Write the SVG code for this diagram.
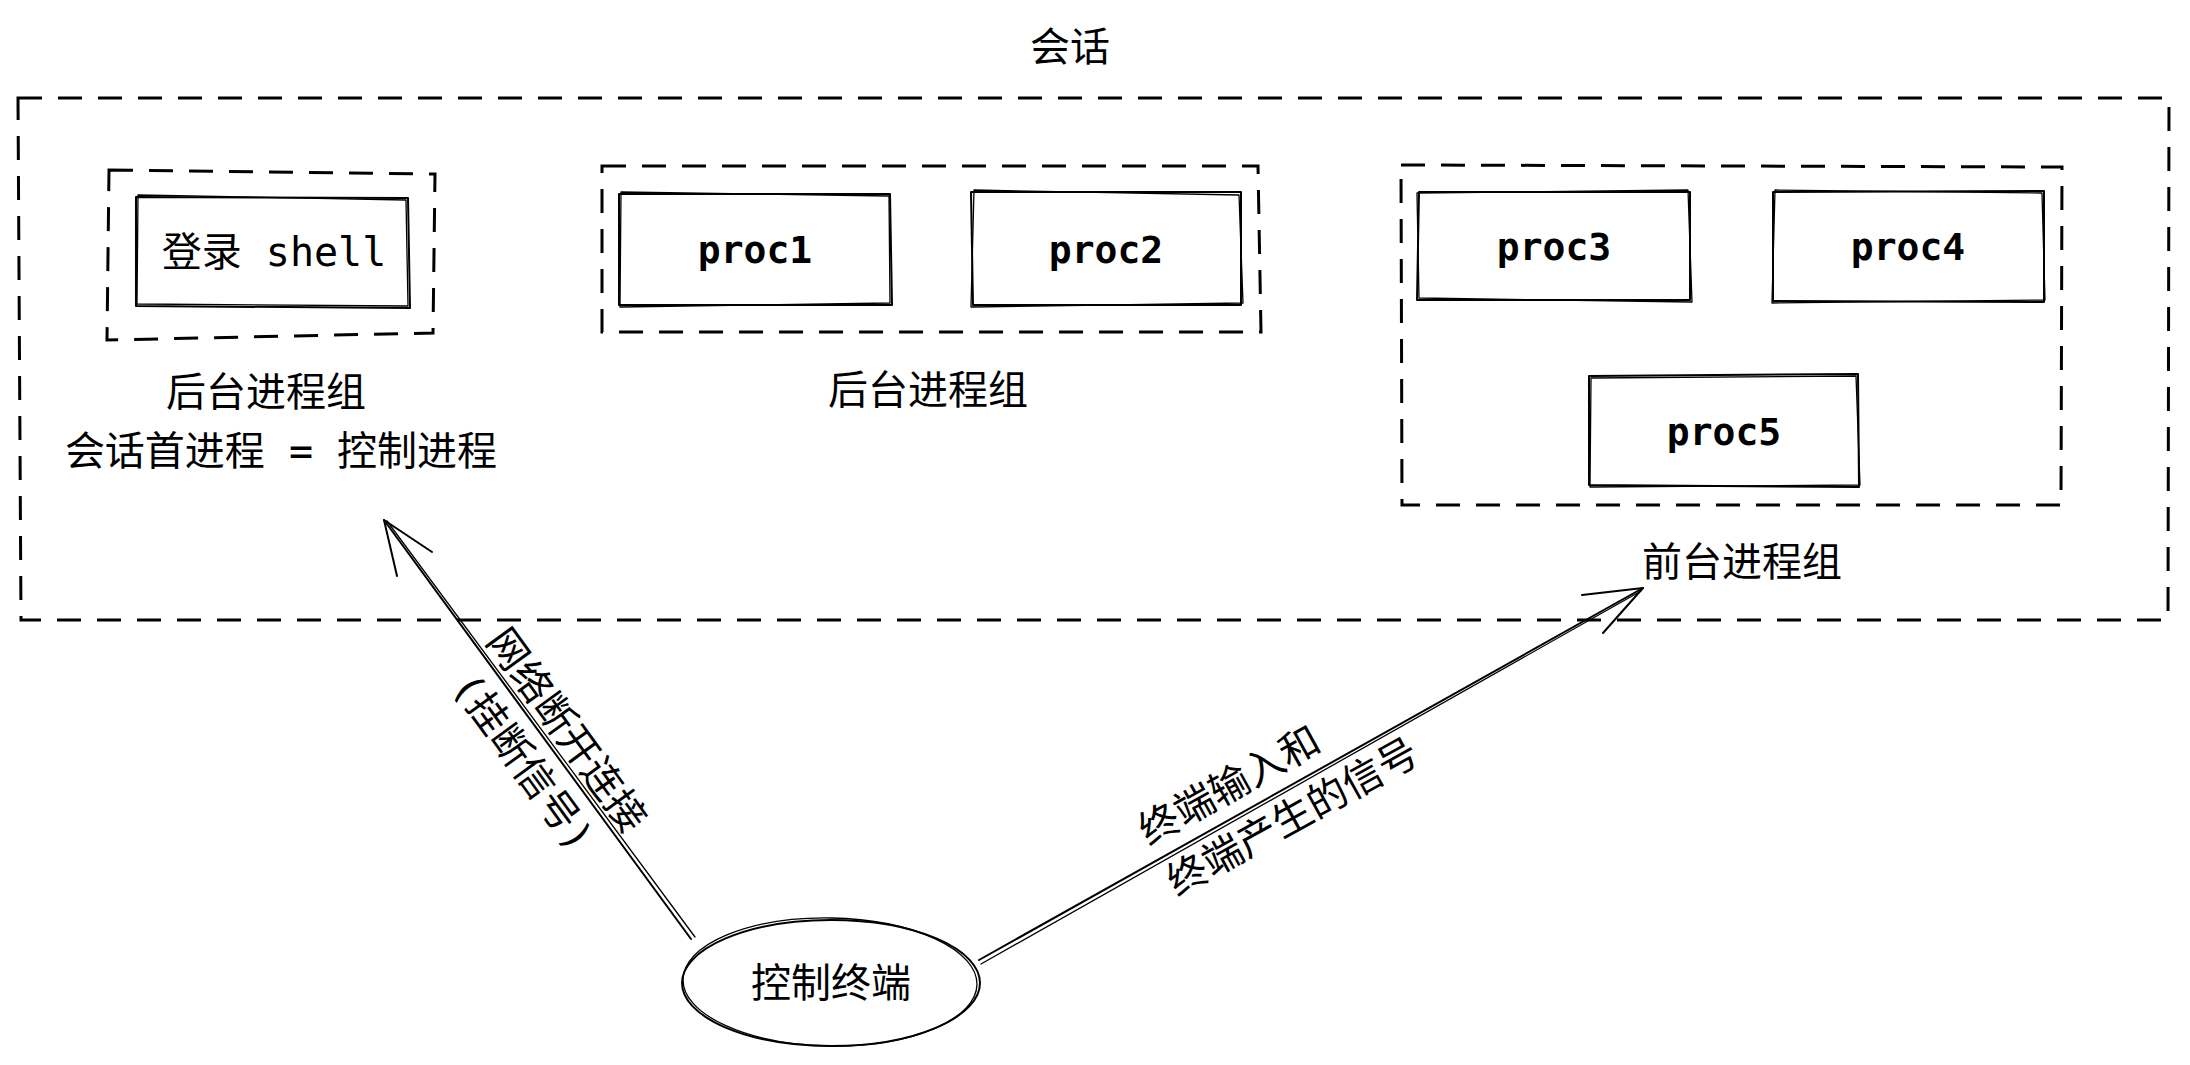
<svg xmlns="http://www.w3.org/2000/svg" width="2190" height="1065" viewBox="0 0 2190 1065">
<style>
  .t { font-family: "DejaVu Sans Mono", "Noto Sans CJK SC", monospace; font-size: 40px; fill: #000; text-anchor: middle; }
  .b { font-weight: bold; font-size: 38px; }
  .dash { fill: none; stroke: #000; stroke-width: 3; stroke-dasharray: 24 16; }
  .sk { fill: none; stroke: #000; stroke-width: 2; stroke-linejoin: round; stroke-linecap: round; }
  .sk2 { fill: none; stroke: #000; stroke-width: 1.3; stroke-linejoin: round; stroke-linecap: round; }
</style>
<rect x="0" y="0" width="2190" height="1065" fill="#fff"/>

<g id="session">
  <path class="dash" d="M18,98 L2169,98 L2168,620 L21,620 Z"/>
  <text class="t" x="1070" y="61">会话</text>
</g>

<g id="group-login">
  <path class="dash" d="M109,170 L435,174 L433,333 L107,340 Z"/>
  <text class="t" x="266" y="406">后台进程组</text>
  <text class="t" x="281" y="465">会话首进程 = 控制进程</text>
</g>

<g id="login-shell">
  <path class="sk" d="M136,197 L408,198 L410,308 L136,306 Z"/>
  <path class="sk2" d="M138,195 L406,200 L408,306 L137,304 Z"/>
  <text class="t" x="274" y="266">登录 shell</text>
</g>

<g id="group-bg">
  <path class="dash" d="M602,166 L1258,166 L1261,332 L602,332 Z"/>
  <text class="t" x="928" y="404">后台进程组</text>
</g>

<g id="proc1">
  <path class="sk" d="M619,194 L890,194 L892,305 L619,305 Z"/>
  <path class="sk2" d="M621,192 L889,196 L890,303 L620,307 Z"/>
  <text class="t b" x="755" y="263">proc1</text>
</g>

<g id="proc2">
  <path class="sk" d="M971,192 L1241,192 L1241,305 L973,305 Z"/>
  <path class="sk2" d="M974,190 L1239,195 L1243,303 L971,307 Z"/>
  <text class="t b" x="1106" y="263">proc2</text>
</g>

<g id="group-fg">
  <path class="dash" d="M1401,165 L2062,167 L2061,505 L1402,505 Z"/>
  <text class="t" x="1742" y="576">前台进程组</text>
</g>

<g id="proc3">
  <path class="sk" d="M1419,192 L1690,192 L1690,300 L1417,300 Z"/>
  <path class="sk2" d="M1417,193 L1688,190 L1692,302 L1419,298 Z"/>
  <text class="t b" x="1554" y="260">proc3</text>
</g>

<g id="proc4">
  <path class="sk" d="M1773,192 L2044,191 L2044,302 L1773,301 Z"/>
  <path class="sk2" d="M1775,190 L2042,193 L2045,300 L1772,303 Z"/>
  <text class="t b" x="1908" y="260">proc4</text>
</g>

<g id="proc5">
  <path class="sk" d="M1589,376 L1858,374 L1859,487 L1589,485 Z"/>
  <path class="sk2" d="M1591,378 L1856,376 L1860,485 L1590,487 Z"/>
  <text class="t b" x="1724" y="445">proc5</text>
</g>

<g id="terminal">
  <ellipse class="sk" cx="831" cy="983" rx="149" ry="63"/>
  <ellipse class="sk2" cx="830" cy="982" rx="147" ry="64" transform="rotate(1 830 982)"/>
  <text class="t" x="831" y="997">控制终端</text>
</g>

<g id="connectors">
  <path class="sk" d="M691,939 L384,520"/>
  <path class="sk2" d="M695,937 L387,521"/>
  <path class="sk" d="M432,552 L384,520 L397,576"/>
  <path class="sk" d="M979,960 L1643,588"/>
  <path class="sk2" d="M981,964 L1641,591"/>
  <path class="sk" d="M1582,595 L1643,588 L1603,633"/>
  <g transform="translate(545,746) rotate(54)">
    <text class="t" x="0" y="-13">网络断开连接</text>
    <text class="t" x="0" y="41">(挂断信号)</text>
  </g>
  <g transform="translate(1142,834) rotate(-29)">
    <text class="t" x="0" y="14" style="text-anchor:start">终端输入和</text>
    <text class="t" x="0" y="72" style="text-anchor:start">终端产生的信号</text>
  </g>
</g>
</svg>
